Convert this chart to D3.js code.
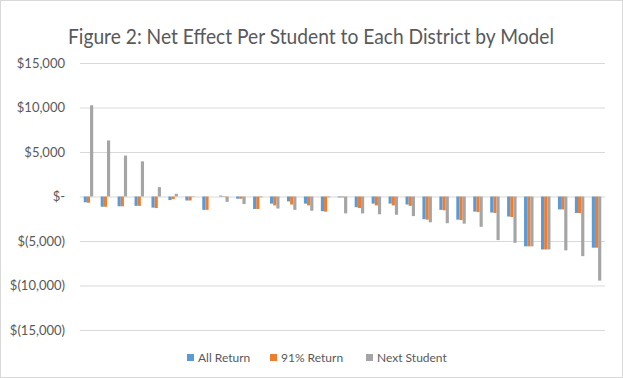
<!DOCTYPE html>
<html>
<head>
<meta charset="utf-8">
<script src="https://cdn.jsdelivr.net/npm/d3@7"></script>
<style>
  body { margin: 0; background: #fff; }
  text { font-family: Lato, "Open Sans", sans-serif; fill: #595959; }
</style>
</head>
<body>
<svg id="chart" width="623" height="378"></svg>
<script>
// values, one entry per district
var allReturn = [-650,-1150,-1100,-1050,-1250,-400,-450,-1500,100,-250,-1400,-800,-550,-800,-1650,-100,-1200,-800,-800,-900,-2550,-1500,-2600,-1700,-1800,-2250,-5600,-5950,-1450,-1850,-5750];
var ninetyOne = [-700,-1150,-1100,-1050,-1300,-300,-450,-1500,50,-250,-1400,-1000,-900,-1000,-1700,-100,-1300,-1000,-1000,-1050,-2600,-1550,-2650,-1750,-1850,-2300,-5600,-5950,-1450,-1850,-5750];
var nextStudent = [10250,6300,4600,3950,1050,300,50,0,-600,-850,-100,-1350,-1500,-1600,-100,-1900,-1900,-2000,-2050,-2200,-2900,-3000,-3050,-3400,-4900,-5200,-5600,-5950,-6050,-6700,-9450];
var seriesNames = ["All Return","91% Return","Next Student"];
var seriesColors = ["#5B9BD5","#ED7D31","#A5A5A5"];
var yTicks = [15000,10000,5000,0,-5000,-10000,-15000];

var svg = d3.select("#chart");

svg.append("rect")
    .attr("x",0.5).attr("y",0.5).attr("width",622).attr("height",377)
    .style("fill","none").style("stroke","#d9d9d9");

svg.append("text")
    .attr("x",311).attr("y",44)
    .attr("text-anchor","middle")
    .attr("textLength",486).attr("lengthAdjust","spacingAndGlyphs")
    .style("font-size","20.5px")
    .text("Figure 2: Net Effect Per Student to Each District by Model");

var districts = d3.range(allReturn.length);
var data = districts.map(function(i) { return [allReturn[i], ninetyOne[i], nextStudent[i]]; });

var xScale = d3.scaleBand().domain(districts).range([80,605]).paddingInner(0.44).paddingOuter(0.22);
var xSub = d3.scaleBand().domain([0,1,2]).range([0,xScale.bandwidth()]);
var yScale = d3.scaleLinear().domain([-15000,15000]).range([330,63]);

function fmt(v) {
    if (v == 0) return "$-";
    var s = d3.format(",")(Math.abs(v));
    return v < 0 ? "$(" + s + ")" : "$" + s;
}

var yAxis = d3.axisLeft(yScale).tickValues(yTicks).tickSize(-525).tickFormat(fmt).tickPadding(15);
var gy = svg.append("g").attr("transform","translate(80,0)").call(yAxis);
gy.select(".domain").remove();
gy.selectAll("line").style("stroke","#d9d9d9");
gy.selectAll("text").style("font-size","13px").style("fill","#595959").style("font-family","Lato, sans-serif");

var groups = svg.append("g").selectAll("g").data(data).enter().append("g")
    .attr("transform", function(d,i) { return "translate(" + xScale(i) + ",0)"; });

groups.selectAll("rect").data(function(d) { return d; }).enter().append("rect")
    .attr("x", function(d,j) { return xSub(j); })
    .attr("width", xSub.bandwidth())
    .attr("y", function(d) { return yScale(Math.max(0,d)); })
    .attr("height", function(d) { return Math.abs(yScale(d) - yScale(0)); })
    .style("fill", function(d,j) { return seriesColors[j]; });

var legendX = [187,270,366];
var legend = svg.append("g").selectAll("g").data(seriesNames).enter().append("g")
    .attr("transform", function(d,i) { return "translate(" + legendX[i] + ",362)"; });
legend.append("rect").attr("x",0).attr("y",-8).attr("width",7).attr("height",7)
    .style("fill", function(d,i) { return seriesColors[i]; });
legend.append("text").attr("x",11).attr("y",0).style("font-size","12px").text(function(d) { return d; });
</script>
</body>
</html>
